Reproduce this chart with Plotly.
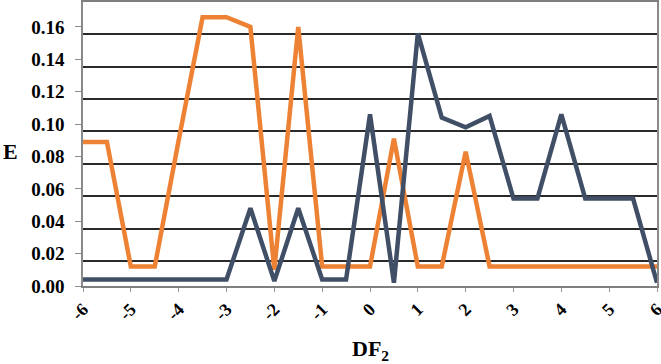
import plotly.graph_objects as go

df2 = [-6, -5.5, -5, -4.5, -4, -3.5, -3, -2.5, -2, -1.5, -1, -0.5, 0,
       0.5, 1, 1.5, 2, 2.5, 3, 3.5, 4, 4.5, 5, 5.5, 6]
e_orange = [0.089, 0.089, 0.012, 0.012, 0.090, 0.166, 0.166, 0.160, 0.010, 0.160,
            0.012, 0.012, 0.012, 0.091, 0.012, 0.012, 0.083, 0.012, 0.012, 0.012,
            0.012, 0.012, 0.012, 0.012, 0.012]
e_blue = [0.004, 0.004, 0.004, 0.004, 0.004, 0.004, 0.004, 0.048, 0.003, 0.048,
          0.004, 0.004, 0.106, 0.002, 0.156, 0.104, 0.098, 0.105, 0.054, 0.054,
          0.106, 0.054, 0.054, 0.054, 0.002]
x_tick_vals = [-6, -5, -4, -3, -2, -1, 0, 1, 2, 3, 4, 5, 6]
x_tick_labels = ["-6", "-5", "-4", "-3", "-2", "-1", "0", "1", "2", "3", "4", "5", "6"]
y_tick_vals = [0.00, 0.02, 0.04, 0.06, 0.08, 0.10, 0.12, 0.14, 0.16]

FONT = "Liberation Serif"

fig = go.Figure()
fig.add_trace(go.Scatter(x=df2, y=e_orange, mode="lines",
                         line=dict(color="#EE8234", width=4.5), showlegend=False))
fig.add_trace(go.Scatter(x=df2, y=e_blue, mode="lines",
                         line=dict(color="#404F66", width=4.5), showlegend=False))

fig.update_layout(
    width=661, height=364,
    margin=dict(l=83, r=4, t=2, b=78, autoexpand=False),
    paper_bgcolor="white", plot_bgcolor="white",
    font=dict(family=FONT, color="black"),
    xaxis=dict(range=[-6, 6], tickvals=x_tick_vals, ticktext=x_tick_labels,
               tickangle=-45, showgrid=False, zeroline=False, automargin=False,
               ticklabeloverflow="allow",
               showline=True, linecolor="#7f7f7f", linewidth=1.5, mirror=True,
               ticks="outside", ticklen=4, tickcolor="#9a9a9a",
               tickfont=dict(family=FONT, size=18, weight="bold", color="black")),
    yaxis=dict(range=[0, 0.1754], tickvals=y_tick_vals, tickformat=".2f",
               showgrid=False, zeroline=False, automargin=False,
               showline=True, linecolor="#8a8a8a", linewidth=1.5, mirror=True,
               ticks="outside", ticklen=6, tickcolor="#8a8a8a",
               ticklabelstandoff=7,
               tickfont=dict(family=FONT, size=19, weight="bold", color="black"),
               minor=dict(tick0=0.0155, dtick=0.02, showgrid=True,
                          gridcolor="#2a2a2a", gridwidth=1.5, ticks="")),
)

fig.add_annotation(text="E", xref="paper", yref="paper", x=-0.127, y=0.475,
                   xanchor="center", yanchor="middle", showarrow=False,
                   font=dict(family=FONT, size=22, weight="bold", color="black"))
fig.add_annotation(text="DF<sub>2</sub>", xref="paper", yref="paper", x=0.5, y=-0.224,
                   xanchor="center", yanchor="middle", showarrow=False,
                   font=dict(family=FONT, size=22, weight="bold", color="black"))

fig.write_html("out.html", config={"displayModeBar": False},
               post_script="document.body.style.margin='0';document.body.style.overflow='hidden';")
